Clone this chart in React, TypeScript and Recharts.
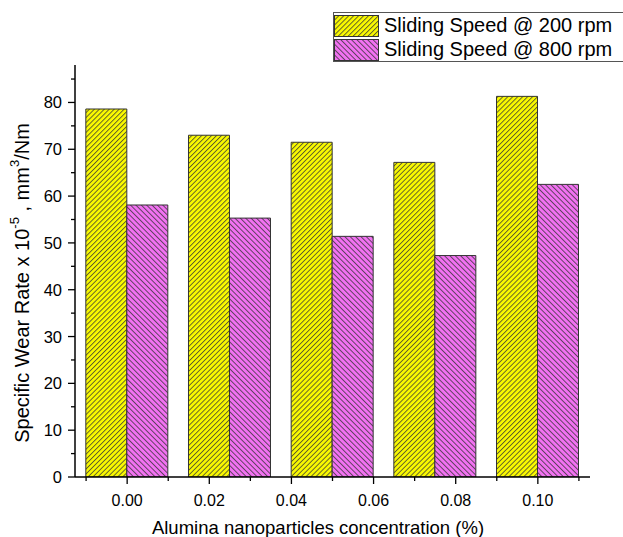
import React from 'react';
import { BarChart, Bar, XAxis, YAxis, Legend } from 'recharts';

const concentrations = [0, 0.025, 0.05, 0.075, 0.1];
const wear200 = [78.6, 73.0, 71.5, 67.2, 81.3];
const wear800 = [58.1, 55.3, 51.4, 47.3, 62.5];
const seriesNames = ['Sliding Speed @ 200 rpm', 'Sliding Speed @ 800 rpm'];
const xTicks = [-0.01, 0, 0.01, 0.02, 0.03, 0.04, 0.05, 0.06, 0.07, 0.08, 0.09, 0.1, 0.11];
const yTicks = [0, 5, 10, 15, 20, 25, 30, 35, 40, 45, 50, 55, 60, 65, 70, 75, 80, 85];

const data = concentrations.map((c, i) => ({ x: c, s200: wear200[i], s800: wear800[i] }));

const FONT = '"Liberation Sans", Arial, sans-serif';
const YELLOW = '#fafa00';
const MAGENTA = '#f272f2';
const HATCH = '#333333';

const Patterns = ({ prefix }: { prefix: string }) => (
  <defs>
    <pattern id={`${prefix}-y`} patternUnits="userSpaceOnUse" width={3.5} height={3.5} patternTransform="rotate(45)">
      <rect x={0} y={0} width={3.5} height={3.5} fill={YELLOW} />
      <line x1={0.5} y1={0} x2={0.5} y2={3.5} stroke={HATCH} strokeWidth={0.75} />
    </pattern>
    <pattern id={`${prefix}-m`} patternUnits="userSpaceOnUse" width={3.8} height={3.8} patternTransform="rotate(-45)">
      <rect x={0} y={0} width={3.8} height={3.8} fill={MAGENTA} />
      <line x1={0.5} y1={0} x2={0.5} y2={3.8} stroke={HATCH} strokeWidth={0.75} />
    </pattern>
  </defs>
);

const XTick = (props: any) => {
  const { x, y, payload } = props;
  const v = payload.value as number;
  const major = Math.round(v * 100) % 2 === 0;
  return (
    <g>
      <line x1={x} x2={x} y1={y} y2={y + (major ? 7 : 4)} stroke="#000" strokeWidth={1.3} />
      {major && (
        <text x={x} y={y + 23} textAnchor="middle" dominantBaseline="central" fontSize={16} fontFamily={FONT} fill="#000">
          {v.toFixed(2)}
        </text>
      )}
    </g>
  );
};

const YTick = (props: any) => {
  const { x, y, payload } = props;
  const v = payload.value as number;
  const major = v % 10 === 0;
  return (
    <g>
      <line x1={x} x2={x - (major ? 7 : 4)} y1={y} y2={y} stroke="#000" strokeWidth={1.3} />
      {major && (
        <text x={x - 13} y={y} textAnchor="end" dominantBaseline="central" fontSize={16.5} fontFamily={FONT} fill="#000">
          {v}
        </text>
      )}
    </g>
  );
};

const YLabel = () => (
  <text transform="rotate(-90)" x={-283} y={22} textAnchor="middle" dominantBaseline="central" fontSize={20} fontFamily={FONT} fill="#000">
    Specific Wear Rate x 10
    <tspan baselineShift="super" fontSize={13}>-5</tspan>
    <tspan> , mm</tspan>
    <tspan baselineShift="super" fontSize={13}>3</tspan>
    <tspan>/Nm</tspan>
  </text>
);

const XLabel = () => (
  <text x={318} y={527} textAnchor="middle" dominantBaseline="central" fontSize={18.5} fontFamily={FONT} fill="#000">
    Alumina nanoparticles concentration (%)
  </text>
);

const LegendBox = () => (
  <div
    style={{
      width: 290,
      height: 50,
      borderTop: '1.5px solid #555',
      borderBottom: '1.5px solid #555',
      borderLeft: '1.5px solid #555',
      boxSizing: 'border-box',
      background: '#fff',
      fontFamily: FONT,
      fontSize: 20,
      color: '#000',
    }}
  >
    {seriesNames.map((name, i) => (
      <div key={name} style={{ display: 'flex', alignItems: 'center', height: 23, marginTop: 1 }}>
        <svg width={45} height={22} style={{ display: 'block' }}>
          <Patterns prefix={`lg${i}`} />
          <rect x={0.5} y={0.5} width={44} height={21} fill={`url(#lg${i}-${i === 0 ? 'y' : 'm'})`} stroke={HATCH} strokeWidth={1} />
        </svg>
        <span style={{ marginLeft: 5, whiteSpace: 'nowrap', lineHeight: '23px' }}>{name}</span>
      </div>
    ))}
  </div>
);

export default function App() {
  return (
    <div style={{ position: 'absolute', left: 0, top: 0, background: '#fff' }}>
      <BarChart
        width={623}
        height={537}
        data={data}
        margin={{ top: 65, right: 33, bottom: 20, left: 15 }}
        barGap={0}
        barSize={41}
      >
        <Patterns prefix="ch" />
        <XAxis
          type="number"
          dataKey="x"
          domain={[-0.0127, 0.1127]}
          ticks={xTicks}
          interval={0}
          height={40}
          tickSize={0}
          tickMargin={0}
          tickLine={false}
          tick={<XTick />}
          axisLine={{ stroke: '#000', strokeWidth: 1.5 }}
          allowDataOverflow
          label={<XLabel />}
        />
        <YAxis
          type="number"
          domain={[0, 88]}
          ticks={yTicks}
          interval={0}
          width={60}
          tickSize={0}
          tickMargin={0}
          tickLine={false}
          tick={<YTick />}
          axisLine={{ stroke: '#000', strokeWidth: 1.5 }}
          allowDataOverflow
          label={<YLabel />}
        />
        <Legend
          layout="vertical"
          align="center"
          verticalAlign="middle"
          content={() => <LegendBox />}
          wrapperStyle={{ position: 'absolute', left: 333, top: 12, width: 290, height: 50 }}
        />
        <Bar dataKey="s200" name={seriesNames[0]} fill="url(#ch-y)" stroke={HATCH} strokeWidth={1} isAnimationActive={false} />
        <Bar dataKey="s800" name={seriesNames[1]} fill="url(#ch-m)" stroke={HATCH} strokeWidth={1} isAnimationActive={false} />
      </BarChart>
    </div>
  );
}
